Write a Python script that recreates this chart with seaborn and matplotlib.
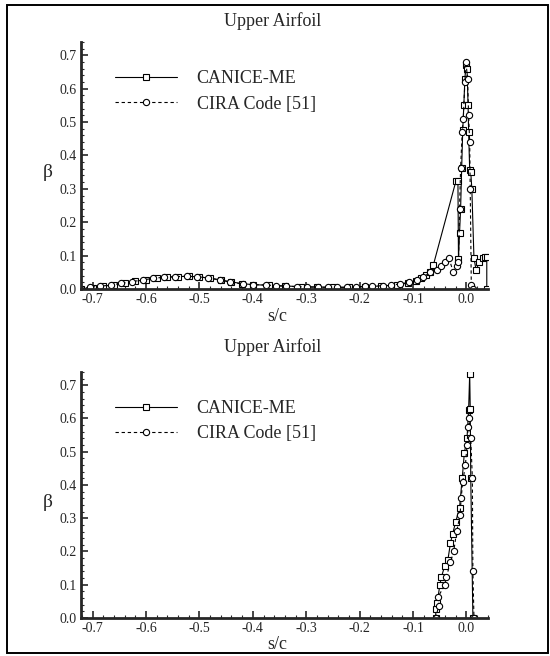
import numpy as np
import pandas as pd
import matplotlib
matplotlib.use("Agg")
import matplotlib.pyplot as plt
from matplotlib.patches import Rectangle
from matplotlib.ticker import MultipleLocator, FormatStrFormatter
import seaborn as sns

# ---- data ----
# upper panel, CANICE-ME (squares, solid)
top_canice_x = [-0.722, -0.70, -0.68, -0.66, -0.64, -0.62, -0.60, -0.58, -0.56, -0.54,
                -0.52, -0.50, -0.48, -0.46, -0.44, -0.42, -0.40, -0.37, -0.34, -0.31,
                -0.28, -0.25, -0.22, -0.19, -0.16, -0.13, -0.11, -0.095, -0.085, -0.075,
                -0.068, -0.062, -0.020, -0.016, -0.015, -0.013, -0.011, -0.009, -0.007,
                -0.005, -0.003, -0.001, 0.001, 0.003, 0.004, 0.006, 0.008, 0.010, 0.014,
                0.018, 0.024, 0.030, 0.035, 0.038, 0.038]
top_canice_y = [0.000, 0.004, 0.008, 0.013, 0.018, 0.023, 0.028, 0.032, 0.035, 0.037,
                0.038, 0.036, 0.032, 0.027, 0.021, 0.016, 0.013, 0.011, 0.009, 0.007,
                0.006, 0.005, 0.005, 0.007, 0.009, 0.012, 0.018, 0.024, 0.032, 0.042,
                0.050, 0.072, 0.322, 0.322, 0.090, 0.168, 0.240, 0.363, 0.477, 0.550,
                0.630, 0.670, 0.660, 0.550, 0.470, 0.357, 0.350, 0.300, 0.092, 0.057,
                0.080, 0.092, 0.095, 0.095, 0.000]

# upper panel, CIRA Code [51] (circles, dashed)
top_cira_x = [-0.724, -0.705, -0.687, -0.665, -0.646, -0.626, -0.606, -0.586, -0.566,
              -0.546, -0.523, -0.504, -0.484, -0.461, -0.442, -0.419, -0.399, -0.376,
              -0.357, -0.337, -0.317, -0.298, -0.278, -0.259, -0.242, -0.223, -0.206,
              -0.190, -0.177, -0.157, -0.141, -0.124, -0.108, -0.093, -0.081, -0.068,
              -0.056, -0.047, -0.041, -0.033, -0.025, -0.018, -0.015, -0.013, -0.011,
              -0.008, -0.006, -0.003, -0.001, 0.002, 0.004, 0.006, 0.007, 0.009, 0.012]
top_cira_y = [0.000, 0.005, 0.008, 0.012, 0.017, 0.022, 0.027, 0.032, 0.035,
              0.037, 0.038, 0.037, 0.033, 0.027, 0.020, 0.015, 0.013, 0.012,
              0.010, 0.008, 0.007, 0.006, 0.005, 0.005, 0.005, 0.005, 0.006,
              0.008, 0.008, 0.010, 0.012, 0.015, 0.020, 0.026, 0.035, 0.050,
              0.057, 0.070, 0.080, 0.093, 0.052, 0.070, 0.080, 0.240, 0.363,
              0.470, 0.510, 0.620, 0.680, 0.630, 0.520, 0.440, 0.300, 0.013, 0.000]

# lower panel, CANICE-ME
bot_canice_x = [-0.058, -0.057, -0.055, -0.050, -0.047, -0.041, -0.035, -0.030, -0.026,
                -0.020, -0.013, -0.008, -0.004, 0.001, 0.004, 0.006, 0.007, 0.008, 0.012]
bot_canice_y = [0.000, 0.027, 0.044, 0.098, 0.123, 0.155, 0.173, 0.225, 0.253,
                0.290, 0.332, 0.420, 0.496, 0.541, 0.626, 0.735, 0.630, 0.420, 0.000]

# lower panel, CIRA Code [51]
bot_cira_x = [-0.058, -0.052, -0.053, -0.041, -0.038, -0.030, -0.024, -0.018, -0.012,
              -0.010, -0.007, -0.002, 0.001, 0.003, 0.005, 0.008, 0.011, 0.012, 0.014]
bot_cira_y = [0.000, 0.035, 0.064, 0.098, 0.122, 0.167, 0.200, 0.263, 0.310,
              0.360, 0.410, 0.460, 0.520, 0.575, 0.600, 0.540, 0.420, 0.140, 0.000]

labels = ["CANICE-ME", "CIRA Code [51]"]
title = "Upper Airfoil"

sns.set_style("ticks")
plt.rcParams["font.family"] = ["Liberation Serif", "DejaVu Serif"]
plt.rcParams["axes.unicode_minus"] = False

fig = plt.figure(figsize=(5.5, 6.56), dpi=100)
ax_top = fig.add_axes([0.147, 0.5595, 0.740, 0.3765])
ax_bot = fig.add_axes([0.147, 0.058, 0.740, 0.375])


def draw_panel(ax, cx, cy, rx, ry):
    sns.lineplot(x=cx, y=cy, ax=ax, sort=False, estimator=None, color="black",
                 lw=0.8, marker="s", markersize=4, markerfacecolor="white",
                 markeredgecolor="black", markeredgewidth=0.8, label=labels[0])
    sns.lineplot(x=rx, y=ry, ax=ax, sort=False, estimator=None, color="black",
                 lw=0.8, dashes=(3, 2.5), marker="o", markersize=4.5,
                 markerfacecolor="white", markeredgecolor="black",
                 markeredgewidth=0.8, label=labels[1])
    ax.set_xlim(-0.722, 0.04)
    ax.set_ylim(0, 0.74)
    ax.xaxis.set_major_locator(MultipleLocator(0.1))
    ax.xaxis.set_minor_locator(MultipleLocator(0.02))
    ax.yaxis.set_major_locator(MultipleLocator(0.1))
    ax.yaxis.set_minor_locator(MultipleLocator(0.02))
    ax.xaxis.set_major_formatter(FormatStrFormatter("%.1f"))
    ax.yaxis.set_major_formatter(FormatStrFormatter("%.1f"))
    ax.set_xticks([-0.7, -0.6, -0.5, -0.4, -0.3, -0.2, -0.1, 0.0])
    ax.tick_params(which="major", direction="in", length=5, width=1.2,
                   labelsize=10, pad=3)
    ax.tick_params(which="minor", direction="in", length=2.5, width=0.8)
    sns.despine(ax=ax)
    for s in ("left", "bottom"):
        ax.spines[s].set_linewidth(2.0)
    ax.set_xlabel("")
    ax.set_ylabel("β", rotation=0, fontsize=14, va="center", ha="center")
    ax.yaxis.set_label_coords(-0.081, 0.47)
    ax.legend(loc="upper left", bbox_to_anchor=(0.085, 0.885), frameon=False,
              fontsize=13, handlelength=3.4, handletextpad=1.1,
              labelspacing=0.45, borderpad=0, borderaxespad=0, numpoints=1)
    ax.patch.set_alpha(0)


draw_panel(ax_top, top_canice_x, top_canice_y, top_cira_x, top_cira_y)
draw_panel(ax_bot, bot_canice_x, bot_canice_y, bot_cira_x, bot_cira_y)

fig.text(0.496, 0.968, title, fontsize=13, ha="center", va="center")
fig.text(0.496, 0.471, title, fontsize=13, ha="center", va="center")
fig.text(0.505, 0.517, "s/c", fontsize=13, ha="center", va="center")
fig.text(0.505, 0.018, "s/c", fontsize=13, ha="center", va="center")

fig.add_artist(Rectangle((0.013, 0.004), 0.984, 0.988, transform=fig.transFigure,
                         fill=False, edgecolor="black", lw=1.4))

fig.savefig("out.png", dpi=100)
